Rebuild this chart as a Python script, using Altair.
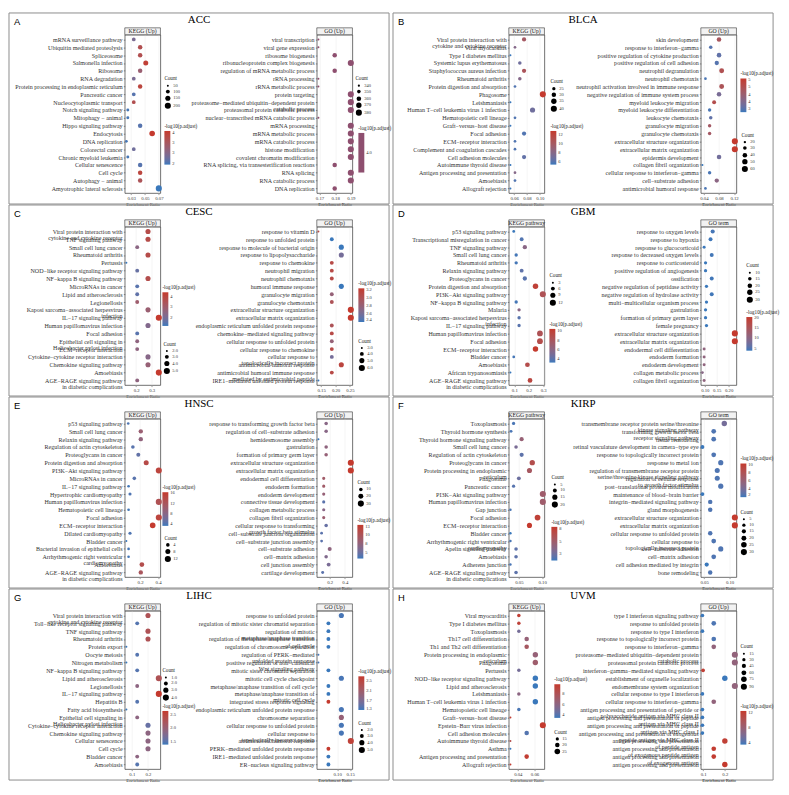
import altair as alt
import pandas as pd

SERIF = "Liberation Serif"
SANS = "Liberation Sans"
LOW = "#3A78BB"
HIGH = "#C43A2E"
SINGLE = "#8E4F6F"
PLOT_W, PLOT_H = 36, 160

# ---------------- A  ACC ----------------
A_kegg_terms = ["mRNA surveillance pathway", "Ubiquitin mediated proteolysis", "Spliceosome",
                "Salmonella infection", "Ribosome", "RNA degradation",
                "Protein processing in endoplasmic reticulum", "Pancreatic cancer",
                "Nucleocytoplasmic transport", "Notch signaling pathway", "Mitophagy − animal",
                "Hippo signaling pathway", "Endocytosis", "DNA replication", "Colorectal cancer",
                "Chronic myeloid leukemia", "Cellular senescence", "Cell cycle", "Autophagy − animal",
                "Amyotrophic lateral sclerosis"]
A_kegg_ratio = [0.0338, 0.0430, 0.0430, 0.0511, 0.0430, 0.0338, 0.0430, 0.0338, 0.0338, 0.0252,
                0.0252, 0.0430, 0.0603, 0.0232, 0.0338, 0.0252, 0.0430, 0.0430, 0.0430, 0.0699]
A_kegg_count = [97, 123, 123, 146, 123, 97, 123, 97, 97, 72, 72, 123, 172, 66, 97, 72, 123, 123, 123, 200]
A_kegg_logp = [2.4, 3.2, 3.2, 3.5, 2.8, 2.4, 3.4, 2.1, 3.2, 2.0, 2.0, 2.1, 3.6, 2.0, 2.3, 2.0, 2.1, 3.4, 3.1, 1.95]
A_kegg_ticks = [0.03, 0.05, 0.07]
A_kegg_count_legend = [50, 100, 150, 200]
A_kegg_logp_legend = [2.0, 2.5, 3.0, 3.5]

A_go_terms = ["viral transcription", "viral gene expression", "ribosome biogenesis",
              "ribonucleoprotein complex biogenesis", "regulation of mRNA metabolic process",
              "rRNA processing", "rRNA metabolic process", "protein targeting",
              "proteasome−mediated ubiquitin−dependent protein\ncatabolic process",
              "proteasomal protein catabolic process", "nuclear−transcribed mRNA catabolic process",
              "mRNA processing", "mRNA metabolic process", "mRNA catabolic process",
              "histone modification", "covalent chromatin modification",
              "RNA splicing, via transesterification reactions", "RNA splicing",
              "RNA catabolic process", "DNA replication"]
A_go_ratio = [0.1693, 0.1693, 0.1797, 0.19, 0.1797, 0.1693, 0.1693, 0.19, 0.19, 0.19, 0.1693, 0.19,
              0.19, 0.19, 0.19, 0.19, 0.1797, 0.19, 0.19, 0.1797]
A_go_count = [339, 339, 359, 380, 359, 339, 339, 380, 380, 380, 339, 380, 380, 380, 380, 380, 359, 380, 380, 359]
A_go_logp = [4.0] * 20
A_go_ticks = [0.170, 0.180, 0.190]
A_go_count_legend = [340, 350, 360, 370, 380]
A_go_logp_legend = [4.0]

# ---------------- B  BLCA ----------------
B_kegg_terms = ["Viral protein interaction with\ncytokine and cytokine receptor", "Viral myocarditis",
                "Type I diabetes mellitus", "Systemic lupus erythematosus",
                "Staphylococcus aureus infection", "Rheumatoid arthritis",
                "Protein digestion and absorption", "Phagosome", "Leishmaniasis",
                "Human T−cell leukemia virus 1 infection", "Hematopoietic cell lineage",
                "Graft−versus−host disease", "Focal adhesion", "ECM−receptor interaction",
                "Complement and coagulation cascades", "Cell adhesion molecules",
                "Autoimmune thyroid disease", "Antigen processing and presentation", "Amoebiasis",
                "Allograft rejection"]
B_kegg_ratio = [0.0755, 0.0614, 0.0543, 0.0689, 0.0755, 0.0689, 0.0614, 0.1047, 0.0543, 0.0887,
                0.0614, 0.0543, 0.0755, 0.0614, 0.0614, 0.0755, 0.0543, 0.0614, 0.0614, 0.0543]
B_kegg_count = [29, 23, 21, 26, 29, 26, 23, 40, 21, 34, 23, 21, 29, 23, 23, 29, 21, 23, 23, 21]
B_kegg_logp = [10, 8, 5.5, 7, 10.5, 8, 6, 12.8, 5.5, 7, 6, 5.5, 6, 6, 6, 6.5, 5.5, 8, 6, 5.5]
B_kegg_ticks = [0.06, 0.08, 0.10]
B_kegg_count_legend = [25, 30, 35, 40]
B_kegg_logp_legend = [6, 8, 10, 12]

B_go_terms = ["skin development", "response to interferon−gamma",
              "positive regulation of cytokine production", "positive regulation of cell adhesion",
              "neutrophil degranulation", "neutrophil chemotaxis",
              "neutrophil activation involved in immune response",
              "negative regulation of immune system process", "myeloid leukocyte migration",
              "myeloid leukocyte differentiation", "leukocyte chemotaxis", "granulocyte migration",
              "granulocyte chemotaxis", "extracellular structure organization",
              "extracellular matrix organization", "epidermis development",
              "collagen fibril organization", "cellular response to interferon−gamma",
              "cell−substrate adhesion", "antimicrobial humoral response"]
B_go_ratio = [0.080, 0.058, 0.080, 0.074, 0.087, 0.044, 0.087, 0.080, 0.067, 0.055, 0.058, 0.055,
              0.055, 0.122, 0.122, 0.080, 0.036, 0.055, 0.074, 0.044]
B_go_count = [40, 29, 40, 37, 44, 22, 44, 40, 33, 28, 29, 28, 28, 61, 61, 40, 18, 28, 37, 22]
B_go_logp = [4.3, 3.0, 3.1, 3.0, 4.5, 2.9, 4.4, 3.4, 4.6, 2.9, 3.1, 4.2, 4.2, 5.1, 5.1, 3.3, 2.8, 2.9, 3.7, 2.9]
B_go_ticks = [0.04, 0.08, 0.12]
B_go_count_legend = [20, 30, 40, 50, 60]
B_go_logp_legend = [3.0, 3.5, 4.0, 4.5, 5.0]

# ---------------- C  CESC ----------------
C_kegg_terms = ["Viral protein interaction with\ncytokine and cytokine receptor", "TNF signaling pathway",
                "Small cell lung cancer", "Rheumatoid arthritis", "Pertussis",
                "NOD−like receptor signaling pathway", "NF−kappa B signaling pathway",
                "MicroRNAs in cancer", "Lipid and atherosclerosis", "Legionellosis",
                "Kaposi sarcoma−associated herpesvirus\ninfection", "IL−17 signaling pathway",
                "Human papillomavirus infection", "Focal adhesion",
                "Epithelial cell signaling in\nHelicobacter pylori infection", "ECM−receptor interaction",
                "Cytokine−cytokine receptor interaction", "Chemokine signaling pathway", "Amoebiasis",
                "AGE−RAGE signaling pathway\nin diabetic complications"]
C_kegg_ratio = [0.276, 0.276, 0.207, 0.276, 0.138, 0.207, 0.276, 0.207, 0.207, 0.207, 0.276, 0.345,
                0.276, 0.207, 0.207, 0.207, 0.276, 0.276, 0.345, 0.207]
C_kegg_count = [4, 4, 3, 4, 2, 3, 4, 3, 3, 3, 4, 5, 4, 3, 3, 3, 4, 4, 5, 3]
C_kegg_logp = [3.8, 3.8, 2.5, 3.8, 1.3, 1.8, 3.7, 1.6, 1.7, 3.0, 2.9, 4.4, 2.3, 1.6, 2.6, 2.6, 2.4, 2.8, 4.4, 2.6]
C_kegg_ticks = [0.20, 0.30]
C_kegg_count_legend = [2, 3, 4, 5]
C_kegg_logp_legend = [2, 3, 4]

C_go_terms = ["response to vitamin D", "response to unfolded protein",
              "response to molecule of bacterial origin", "response to lipopolysaccharide",
              "response to chemokine", "neutrophil migration", "neutrophil chemotaxis",
              "humoral immune response", "granulocyte migration", "granulocyte chemotaxis",
              "extracellular structure organization", "extracellular matrix organization",
              "endoplasmic reticulum unfolded protein response",
              "chemokine−mediated signaling pathway", "cellular response to unfolded protein",
              "cellular response to chemokine", "cellular response to\ntopologically incorrect protein",
              "antimicrobial humoral response",
              "antimicrobial humoral immune response\nmediated by antimicrobial peptide",
              "IRE1−mediated unfolded protein response"]
C_go_ratio = [0.1406, 0.187, 0.22, 0.22, 0.187, 0.187, 0.187, 0.22, 0.187, 0.187, 0.253, 0.253,
              0.187, 0.187, 0.187, 0.187, 0.187, 0.22, 0.187, 0.1406]
C_go_count = [3, 4, 5, 5, 4, 4, 4, 5, 4, 4, 6, 6, 4, 4, 4, 4, 4, 5, 4, 3]
C_go_logp = [3.1, 2.4, 2.4, 2.6, 3.1, 3.1, 3.1, 2.4, 2.8, 3.0, 3.25, 3.25, 3.0, 3.1, 2.8, 3.1, 2.6, 3.15, 3.1, 2.4]
C_go_ticks = [0.15, 0.20, 0.25]
C_go_count_legend = [3, 4, 5, 6]
C_go_logp_legend = [2.4, 2.6, 2.8, 3.0, 3.2]

# ---------------- D  GBM ----------------
D_kegg_terms = ["p53 signaling pathway", "Transcriptional misregulation in cancer",
                "TNF signaling pathway", "Small cell lung cancer", "Rheumatoid arthritis",
                "Relaxin signaling pathway", "Proteoglycans in cancer",
                "Protein digestion and absorption", "PI3K−Akt signaling pathway",
                "NF−kappa B signaling pathway", "Malaria",
                "Kaposi sarcoma−associated herpesvirus\ninfection", "IL−17 signaling pathway",
                "Human papillomavirus infection", "Focal adhesion", "ECM−receptor interaction",
                "Bladder cancer", "Amoebiasis", "African trypanosomiasis",
                "AGE−RAGE signaling pathway\nin diabetic complications"]
D_kegg_ratio = [0.096, 0.151, 0.173, 0.113, 0.113, 0.151, 0.173, 0.247, 0.298, 0.113, 0.133, 0.133,
                0.133, 0.278, 0.278, 0.247, 0.096, 0.191, 0.073, 0.209]
D_kegg_count = [4, 6, 7, 5, 5, 6, 7, 10, 12, 5, 5, 5, 5, 11, 11, 10, 4, 8, 3, 8]
D_kegg_logp = [3.3, 3.8, 6, 3.5, 3.5, 4.2, 4, 10, 8.5, 3.5, 6, 4, 4, 8.5, 9, 10.5, 3.5, 9, 3.3, 9.5]
D_kegg_ticks = [0.10, 0.20, 0.30]
D_kegg_count_legend = [3, 6, 9, 12]
D_kegg_logp_legend = [4, 6, 8, 10]

D_go_terms = ["response to oxygen levels", "response to hypoxia", "response to glucocorticoid",
              "response to decreased oxygen levels", "response to corticosteroid",
              "positive regulation of angiogenesis", "ossification",
              "negative regulation of peptidase activity", "negative regulation of hydrolase activity",
              "multi−multicellular organism process", "gastrulation", "formation of primary germ layer",
              "female pregnancy", "extracellular structure organization",
              "extracellular matrix organization", "endodermal cell differentiation",
              "endoderm formation", "endoderm development", "collagen metabolic process",
              "collagen fibril organization"]
D_go_ratio = [0.133, 0.124, 0.097, 0.129, 0.103, 0.103, 0.129, 0.107, 0.129, 0.107, 0.103, 0.103,
              0.107, 0.226, 0.226, 0.097, 0.097, 0.097, 0.090, 0.097]
D_go_count = [18, 17, 13, 17, 14, 14, 17, 14, 17, 14, 14, 14, 14, 30, 30, 13, 13, 13, 12, 13]
D_go_logp = [4.5, 4.2, 4, 4.4, 4, 4, 4.3, 4, 4.3, 4, 4, 4, 4, 20.5, 20.5, 11, 11, 11, 10, 11]
D_go_ticks = [0.10, 0.15, 0.20]
D_go_count_legend = [10, 15, 20, 25, 30]
D_go_logp_legend = [5, 10, 15, 20]

# ---------------- E  HNSC ----------------
E_kegg_terms = ["p53 signaling pathway", "Small cell lung cancer", "Relaxin signaling pathway",
                "Regulation of actin cytoskeleton", "Proteoglycans in cancer",
                "Protein digestion and absorption", "PI3K−Akt signaling pathway",
                "MicroRNAs in cancer", "IL−17 signaling pathway", "Hypertrophic cardiomyopathy",
                "Human papillomavirus infection", "Hematopoietic cell lineage", "Focal adhesion",
                "ECM−receptor interaction", "Dilated cardiomyopathy", "Bladder cancer",
                "Bacterial invasion of epithelial cells",
                "Arrhythmogenic right ventricular\ncardiomyopathy", "Amoebiasis",
                "AGE−RAGE signaling pathway\nin diabetic complications"]
E_kegg_ratio = [0.068, 0.208, 0.208, 0.12, 0.18, 0.268, 0.408, 0.136, 0.072, 0.088, 0.408, 0.072,
                0.408, 0.34, 0.088, 0.048, 0.072, 0.072, 0.22, 0.208]
E_kegg_count = [2, 6, 6, 4, 5, 8, 12, 4, 2, 3, 12, 2, 12, 10, 3, 1, 2, 2, 7, 6]
E_kegg_logp = [4, 10, 9, 4.5, 5, 14, 15, 4.5, 3.5, 4, 13, 3.5, 15, 16.5, 4, 3.2, 3.5, 3.5, 13.5, 12]
E_kegg_ticks = [0.2, 0.4]
E_kegg_count_legend = [4, 8, 12]
E_kegg_logp_legend = [4, 8, 12, 16]

E_go_terms = ["response to transforming growth factor beta", "regulation of cell−substrate adhesion",
              "hemidesmosome assembly", "gastrulation", "formation of primary germ layer",
              "extracellular structure organization", "extracellular matrix organization",
              "endodermal cell differentiation", "endoderm formation", "endoderm development",
              "connective tissue development", "collagen metabolic process",
              "collagen fibril organization",
              "cellular response to transforming\ngrowth factor beta stimulus",
              "cell−substrate junction organization", "cell−substrate junction assembly",
              "cell−substrate adhesion", "cell−matrix adhesion", "cell junction assembly",
              "cartilage development"]
E_go_ratio = [0.153, 0.153, 0.051, 0.153, 0.153, 0.479, 0.479, 0.121, 0.121, 0.121, 0.121, 0.121,
              0.121, 0.153, 0.093, 0.093, 0.2, 0.153, 0.186, 0.107]
E_go_count = [10, 10, 3, 10, 10, 30, 30, 8, 8, 8, 8, 8, 8, 10, 6, 6, 13, 10, 12, 7]
E_go_logp = [7, 7, 3.5, 7.5, 8, 13, 13, 9, 9, 8, 4.5, 7, 8.5, 5, 4.5, 4.5, 7.5, 6.5, 6, 4.5]
E_go_ticks = [0.2, 0.4]
E_go_count_legend = [10, 20, 30]
E_go_logp_legend = [5.0, 7.5, 10.0, 12.5]

# ---------------- F  KIRP ----------------
F_kegg_terms = ["Toxoplasmosis", "Thyroid hormone synthesis", "Thyroid hormone signaling pathway",
                "Small cell lung cancer", "Regulation of actin cytoskeleton", "Proteoglycans in cancer",
                "Protein processing in endoplasmic\nreticulum", "Phagosome", "Pancreatic cancer",
                "PI3K−Akt signaling pathway", "Human papillomavirus infection", "Gap junction",
                "Focal adhesion", "ECM−receptor interaction", "Bladder cancer",
                "Arrhythmogenic right ventricular\ncardiomyopathy", "Apelin signaling pathway",
                "Amoebiasis", "Adherens junction",
                "AGE−RAGE signaling pathway\nin diabetic complications"]
F_kegg_ratio = [0.0387, 0.0333, 0.056, 0.044, 0.056, 0.0787, 0.0727, 0.05, 0.0387, 0.1013, 0.1013,
                0.032, 0.09, 0.0727, 0.032, 0.032, 0.044, 0.044, 0.032, 0.044]
F_kegg_count = [8, 7, 11, 9, 11, 16, 15, 10, 8, 20, 20, 6, 18, 15, 6, 6, 9, 9, 6, 9]
F_kegg_logp = [1.5, 1.5, 4.5, 3, 2, 6.5, 5.5, 2.5, 1.8, 5, 5, 1.5, 7.5, 8, 1.2, 1.5, 2, 2, 1.5, 2]
F_kegg_ticks = [0.05, 0.10]
F_kegg_count_legend = [5, 10, 15, 20]
F_kegg_logp_legend = [2.5, 5.0, 7.5]

F_go_terms = ["transmembrane receptor protein serine/threonine\nkinase signaling pathway",
              "transforming growth factor beta\nreceptor signaling pathway", "tissue remodeling",
              "retinal vasculature development in camera−type eye",
              "response to topologically incorrect protein", "response to metal ion",
              "regulation of transmembrane receptor protein\nserine/threonine kinase signaling pathway",
              "regulation of cellular response\nto growth factor stimulus",
              "post−translational protein modification", "maintenance of blood−brain barrier",
              "integrin−mediated signaling pathway", "gland morphogenesis",
              "extracellular structure organization", "extracellular matrix organization",
              "cellular response to unfolded protein",
              "cellular response to\ntopologically incorrect protein", "cell−substrate adhesion",
              "cell−matrix adhesion", "cell adhesion mediated by integrin", "bone remodeling"]
F_go_ratio = [0.0896, 0.0687, 0.0687, 0.0465, 0.0687, 0.0826, 0.0757, 0.0757, 0.0826, 0.0465, 0.0618,
              0.0618, 0.1104, 0.1104, 0.0618, 0.0687, 0.0826, 0.0687, 0.0549, 0.0618]
F_go_count = [24, 19, 19, 13, 19, 22, 21, 21, 22, 13, 17, 17, 30, 30, 17, 19, 22, 19, 15, 17]
F_go_logp = [4, 2.5, 2.5, 2, 2.5, 2.5, 2.5, 2.5, 2.5, 2, 2.5, 2.5, 10.5, 10.5, 2.5, 2.5, 2.5, 2.5, 2, 2.5]
F_go_ticks = [0.05, 0.10]
F_go_count_legend = [5, 10, 15, 20, 25, 30]
F_go_logp_legend = [2, 4, 6, 8, 10]

# ---------------- G  LIHC ----------------
G_kegg_terms = ["Viral protein interaction with\ncytokine and cytokine receptor",
                "Toll−like receptor signaling pathway", "TNF signaling pathway", "Rheumatoid arthritis",
                "Protein export", "Oocyte meiosis", "Nitrogen metabolism",
                "NF−kappa B signaling pathway", "Lipid and atherosclerosis", "Legionellosis",
                "IL−17 signaling pathway", "Hepatitis B", "Fatty acid biosynthesis",
                "Epithelial cell signaling in\nHelicobacter pylori infection",
                "Cytokine−cytokine receptor interaction", "Chemokine signaling pathway",
                "Cellular senescence", "Cell cycle", "Bladder cancer", "Amoebiasis"]
G_kegg_ratio = [0.2, 0.1333, 0.2, 0.2, 0.0667, 0.1333, 0.0667, 0.1333, 0.2667, 0.1333, 0.2667, 0.1333,
                0.0667, 0.1333, 0.2, 0.2, 0.2, 0.2, 0.1333, 0.1333]
G_kegg_count = [3, 2, 3, 3, 1, 2, 1, 2, 4, 2, 4, 2, 1, 2, 3, 3, 3, 3, 2, 2]
G_kegg_logp = [2.3, 1.5, 2.3, 2.3, 1.4, 1.5, 1.4, 1.5, 2.3, 1.9, 2.65, 1.5, 1.4, 1.9, 1.6, 1.9, 1.9, 1.9, 1.9, 1.5]
G_kegg_ticks = [0.10, 0.20]
G_kegg_count_legend = [1, 2, 3, 4]
G_kegg_logp_legend = [1.5, 2.0, 2.5]

G_go_terms = ["response to unfolded protein", "regulation of mitotic sister chromatid separation",
              "regulation of mitotic\nmetaphase/anaphase transition",
              "regulation of metaphase/anaphase transition\nof cell cycle",
              "regulation of chromosome separation",
              "regulation of PERK−mediated\nunfolded protein response",
              "positive regulation of non−canonical\nWnt signaling pathway",
              "mitotic sister chromatid separation", "mitotic cell cycle checkpoint",
              "metaphase/anaphase transition of cell cycle",
              "metaphase/anaphase transition of\nmitotic cell cycle",
              "integrated stress response signaling",
              "endoplasmic reticulum unfolded protein response", "chromosome separation",
              "cellular response to unfolded protein",
              "cellular response to\ntopologically incorrect protein", "antimicrobial humoral response",
              "PERK−mediated unfolded protein response", "IRE1−mediated unfolded protein response",
              "ER−nucleus signaling pathway"]
G_go_ratio = [0.116, 0.066, 0.066, 0.066, 0.066, 0.0275, 0.0275, 0.066, 0.116, 0.066, 0.066, 0.066,
              0.116, 0.116, 0.116, 0.116, 0.1525, 0.066, 0.066, 0.066]
G_go_count = [4, 3, 3, 3, 3, 2, 2, 3, 4, 3, 3, 3, 4, 4, 4, 4, 5, 3, 3, 3]
G_go_logp = [1.4, 1.35, 1.35, 1.35, 1.35, 1.4, 1.4, 1.35, 1.4, 1.35, 1.35, 2.7, 1.4, 2.0, 1.4, 1.4, 2.6, 2.7, 1.35, 1.35]
G_go_ticks = [0.10, 0.15]
G_go_count_legend = [2, 3, 4, 5]
G_go_logp_legend = [1.3, 1.7, 2.1, 2.5]

# ---------------- H  UVM ----------------
H_kegg_terms = ["Viral myocarditis", "Type I diabetes mellitus", "Toxoplasmosis",
                "Th17 cell differentiation", "Th1 and Th2 cell differentiation",
                "Protein processing in endoplasmic\nreticulum", "Phagosome", "Pertussis",
                "NOD−like receptor signaling pathway", "Lipid and atherosclerosis", "Leishmaniasis",
                "Human T−cell leukemia virus 1 infection", "Hematopoietic cell lineage",
                "Graft−versus−host disease", "Epstein−Barr virus infection", "Cell adhesion molecules",
                "Autoimmune thyroid disease", "Asthma", "Antigen processing and presentation",
                "Allograft rejection"]
H_kegg_ratio = [0.0412, 0.0412, 0.0412, 0.0506, 0.0506, 0.061, 0.061, 0.0412, 0.061, 0.061, 0.0412,
                0.061, 0.0412, 0.0311, 0.07, 0.0506, 0.0311, 0.0311, 0.0506, 0.0311]
H_kegg_count = [16, 16, 16, 20, 20, 24, 24, 16, 24, 24, 16, 24, 16, 12, 28, 20, 12, 12, 20, 12]
H_kegg_logp = [9.5, 9.3, 5, 6.5, 7.5, 6.5, 7, 5, 3.5, 3.5, 6, 3.5, 3.8, 9.5, 9.8, 4, 8.5, 3.5, 9.6, 9.6]
H_kegg_ticks = [0.04, 0.06]
H_kegg_count_legend = [15, 20, 25]
H_kegg_logp_legend = [4, 6, 8]

H_go_terms = ["type I interferon signaling pathway", "response to unfolded protein",
              "response to type I interferon", "response to topologically incorrect protein",
              "response to interferon−gamma",
              "proteasome−mediated ubiquitin−dependent protein\ncatabolic process",
              "proteasomal protein catabolic process", "interferon−gamma−mediated signaling pathway",
              "establishment of organelle localization", "endomembrane system organization",
              "cellular response to type I interferon", "cellular response to interferon−gamma",
              "antigen processing and presentation of peptide or\npolysaccharide antigen via MHC class II",
              "antigen processing and presentation of peptide\nantigen via MHC class II",
              "antigen processing and presentation of peptide\nantigen via MHC class I",
              "antigen processing and presentation of exogenous\npeptide antigen via MHC class II",
              "antigen processing and presentation\nof peptide antigen",
              "antigen processing and presentation\nof exogenous peptide antigen",
              "antigen processing and presentation\nof exogenous antigen",
              "antigen processing and presentation"]
H_go_ratio = [0.097, 0.149, 0.097, 0.149, 0.149, 0.246, 0.246, 0.1, 0.2, 0.246, 0.097, 0.149, 0.097,
              0.097, 0.097, 0.097, 0.2, 0.149, 0.149, 0.2]
H_go_count = [36, 55, 36, 55, 55, 90, 90, 37, 73, 90, 36, 55, 36, 36, 36, 36, 73, 55, 55, 73]
H_go_logp = [3.5, 4, 3.5, 4, 7.5, 7.5, 7.5, 12, 3.5, 7.5, 3.5, 7.5, 3.5, 3.5, 3.5, 3.5, 12, 12.3, 12.3, 12.5]
H_go_ticks = [0.10, 0.20]
H_go_count_legend = [15, 30, 45, 60, 75, 90]
H_go_logp_legend = [4, 8, 12]

PANEL_LETTERS = ["A", "B", "C", "D", "E", "F", "G", "H"]
PANEL_NAMES = ["ACC", "BLCA", "CESC", "GBM", "HNSC", "KIRP", "LIHC", "UVM"]
STRIPS = {
    "A": ("KEGG (Up)", "GO (Up)"), "B": ("KEGG (Up)", "GO (Up)"),
    "C": ("KEGG (Up)", "GO (Up)"), "D": ("KEGG pathway", "GO term"),
    "E": ("KEGG (Up)", "GO (Up)"), "F": ("KEGG pathway", "GO term"),
    "G": ("KEGG (Up)", "GO (Up)"), "H": ("KEGG (Up)", "GO (Up)"),
}
# legend placement (x, y) relative to each plot: (count legend, colour legend)
LEGEND_POS = {
    ("A", "kegg"): ((40, 42), (40, 90)), ("A", "go"): ((39, 42), (42, 92)),
    ("B", "kegg"): ((42, 45), (42, 90)), ("B", "go"): ((41, 99), (40, 37)),
    ("C", "kegg"): ((39, 116), (38, 59)), ("C", "go"): ((42, 113), (42, 55)),
    ("D", "kegg"): ((41, 47), (41, 96)), ("D", "go"): ((46, 37), (46, 84)),
    ("E", "kegg"): ((40, 118), (38, 67)), ("E", "go"): ((41, 62), (41, 100)),
    ("F", "kegg"): ((43, 57), (43, 102)), ("F", "go"): ((40, 92), (40, 38)),
    ("G", "kegg"): ((38, 58), (38, 94)), ("G", "go"): ((42, 111), (42, 59)),
    ("H", "kegg"): ((46, 120), (46, 67)), ("H", "go"): ((40, 34), (40, 94)),
}

ONE = alt.Data(values=[{"k": 1}])
FRAME_LEFT, FRAME_RIGHT = -117, 267


def fmt_for(ticks):
    s = max(len(repr(t).split(".")[1]) if "." in repr(t) else 0 for t in ticks)
    return "." + str(max(1, s)) + "f"


def dot_plot(letter, kind, strip, label_limit, panel_layers):
    g = globals()
    terms = g[f"{letter}_{kind}_terms"]
    ratio = g[f"{letter}_{kind}_ratio"]
    count = g[f"{letter}_{kind}_count"]
    logp = g[f"{letter}_{kind}_logp"]
    ticks = g[f"{letter}_{kind}_ticks"]
    cleg = g[f"{letter}_{kind}_count_legend"]
    pleg = g[f"{letter}_{kind}_logp_legend"]
    cpos, ppos = LEGEND_POS[(letter, kind)]
    df = pd.DataFrame({"term": terms, "ratio": ratio, "count": count, "logp": logp})
    lo, hi = min(ratio), max(ratio)
    pad = (hi - lo) * 0.05
    plo, phi = min(logp), max(logp)
    if phi - plo < 1e-9:
        cscale = alt.Scale(domain=[plo - 0.5, phi + 0.5], range=[SINGLE, SINGLE])
        glen = 40
    else:
        cscale = alt.Scale(domain=[plo, phi], range=[LOW, HIGH], interpolate="lab")
        glen = 34
    slo = min(min(count), min(cleg))
    shi = max(max(count), max(cleg))
    points = alt.Chart(df).mark_circle(opacity=1).encode(
        x=alt.X("ratio:Q", title="Enrichment Ratio",
                scale=alt.Scale(domain=[lo - pad, hi + pad], nice=False, zero=False),
                axis=alt.Axis(values=ticks, format=fmt_for(ticks))),
        y=alt.Y("term:N", sort=terms, title=None, scale=alt.Scale(padding=0.6),
                axis=alt.Axis(labelExpr="split(datum.label, '\\n')", labelLimit=label_limit)),
        color=alt.Color("logp:Q", scale=cscale,
                        legend=alt.Legend(title="-log10(p.adjust)", values=pleg, orient="none",
                                          legendX=ppos[0], legendY=ppos[1], gradientLength=glen)),
        size=alt.Size("count:Q", scale=alt.Scale(domain=[slo, shi], range=[4, 38]),
                      legend=alt.Legend(title="Count", values=cleg, orient="none",
                                        legendX=cpos[0], legendY=cpos[1])),
    )
    strip_box = alt.Chart(ONE).mark_rect(fill="#F2F2F2", stroke="#333333", strokeWidth=0.6).encode(
        x=alt.value(0), x2=alt.value(PLOT_W), y=alt.value(-7), y2=alt.value(0))
    strip_text = alt.Chart(ONE).mark_text(font=SERIF, fontSize=5.8, color="#1a1a1a",
                                          baseline="middle", align="center").encode(
        x=alt.value(PLOT_W / 2), y=alt.value(-3.4), text=alt.value(strip))
    return alt.layer(*panel_layers, strip_box, strip_text, points).properties(
        width=PLOT_W, height=PLOT_H)


def panel_marks(letter, name):
    frame = alt.Chart(ONE).mark_rect(fill="transparent", stroke="#8C8C8C", strokeWidth=1).encode(
        x=alt.value(FRAME_LEFT), x2=alt.value(FRAME_RIGHT), y=alt.value(-22), y2=alt.value(171))
    letter_t = alt.Chart(ONE).mark_text(font=SANS, fontSize=9.5, align="left", baseline="middle",
                                        color="black").encode(
        x=alt.value(FRAME_LEFT + 5), y=alt.value(-13), text=alt.value(letter))
    name_t = alt.Chart(ONE).mark_text(font=SERIF, fontSize=11, align="center", baseline="middle",
                                      color="black").encode(
        x=alt.value((FRAME_LEFT + FRAME_RIGHT) / 2), y=alt.value(-15), text=alt.value(name))
    return [frame, letter_t, name_t]


cells = []
for r in range(4):
    for c in range(2):
        idx = r * 2 + c
        L = PANEL_LETTERS[idx]
        deco = panel_marks(L, PANEL_NAMES[idx])
        cells.append(dot_plot(L, "kegg", STRIPS[L][0], 114 if c == 0 else 160, deco))
        cells.append(dot_plot(L, "go", STRIPS[L][1], 300, []))

chart = alt.concat(*cells, columns=4, spacing={"row": 34, "column": 158}, bounds="flush").resolve_scale(
    x="independent", y="independent", color="independent", size="independent"
).resolve_legend(color="independent", size="independent").properties(
    padding={"left": 0, "top": 0, "right": 0, "bottom": 0}, background="white"
).configure_axis(
    labelFont=SERIF, titleFont=SERIF, labelColor="#333333", titleColor="#1a1a1a",
    tickColor="#333333", tickWidth=0.5, tickSize=1.5, gridColor="#EBEBEB", gridWidth=0.5,
    domain=False, titleFontWeight="normal"
).configure_axisY(
    labelFontSize=6.1, labelPadding=1.2, labelLineHeight=6.1
).configure_axisX(
    labelFontSize=4.8, titleFontSize=4.8, labelPadding=1, titlePadding=1.2, labelFlush=False
).configure_legend(
    titleFont=SERIF, labelFont=SERIF, titleFontSize=5.2, labelFontSize=4.5, titleFontWeight="normal",
    titlePadding=2, gradientThickness=6, gradientStrokeWidth=0, labelOffset=2, rowPadding=1,
    padding=0, symbolFillColor="black", symbolStrokeWidth=0, titleColor="#1a1a1a",
    labelColor="#333333", titleLimit=200
).configure_view(stroke="#333333", strokeWidth=0.7)

chart.save("out.html", embed_options={"renderer": "svg", "actions": False})
